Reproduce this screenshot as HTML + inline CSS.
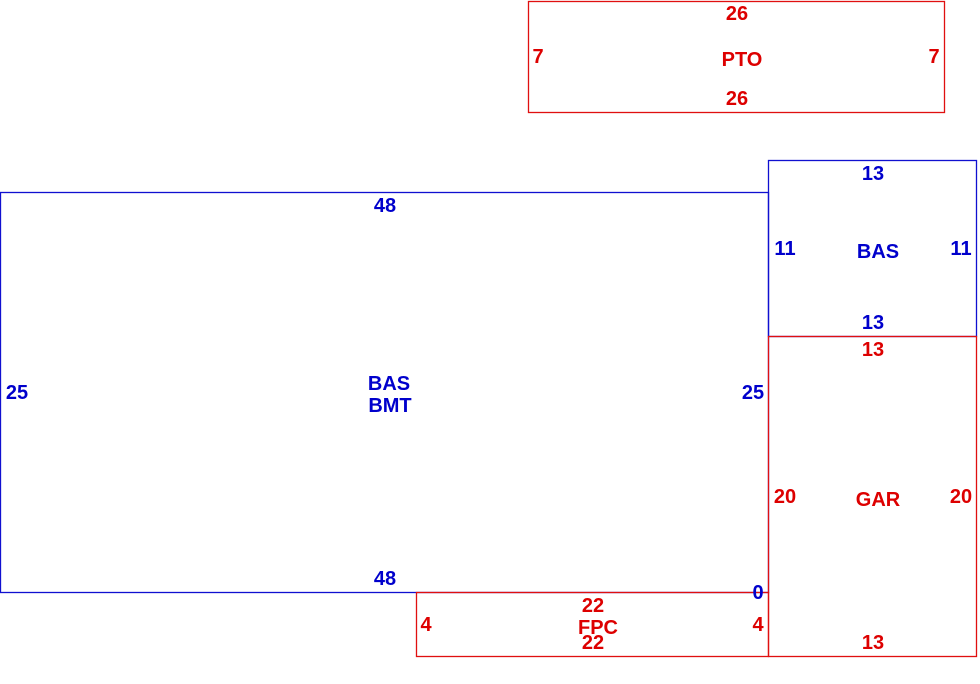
<!DOCTYPE html>
<html><head><style>html,body{margin:0;padding:0;background:#fff}svg{display:block}</style></head><body>
<svg width="980" height="684" xmlns="http://www.w3.org/2000/svg" font-family="Liberation Sans, sans-serif" font-weight="bold" font-size="20" text-anchor="middle" dominant-baseline="central">
<g fill="none" stroke-width="1.3">
<rect x="528.5" y="1.5" width="416" height="111" stroke="#e01010"/>
<rect x="0.5" y="192.5" width="768" height="400" stroke="#1010d0"/>
<rect x="768.5" y="160.5" width="208" height="176" stroke="#1010d0"/>
<rect x="768.5" y="336.5" width="208" height="320" stroke="#e01010"/>
<rect x="416.5" y="592.5" width="352" height="64" stroke="#e01010"/>
</g>
<g fill="#dd0000" transform="translate(0,1)">
<text x="737" y="13">26</text><text x="538" y="56">7</text><text x="934" y="56">7</text><text x="742" y="59">PTO</text><text x="737" y="98">26</text>
<text x="873" y="349">13</text><text x="785" y="496">20</text><text x="878" y="499">GAR</text><text x="961" y="496">20</text><text x="873" y="642">13</text>
<text x="593" y="605">22</text><text x="426" y="624">4</text><text x="758" y="624">4</text><text x="598" y="627">FPC</text><text x="593" y="642">22</text>
</g>
<g fill="#0000cc" transform="translate(0,1)">
<text x="873" y="173">13</text><text x="785" y="248">11</text><text x="878" y="251">BAS</text><text x="961" y="248">11</text><text x="873" y="322">13</text>
<text x="385" y="205">48</text><text x="17" y="392">25</text><text x="389" y="383">BAS</text><text x="390" y="405">BMT</text><text x="753" y="392">25</text><text x="385" y="578">48</text><text x="758" y="592">0</text>
</g>
</svg>
</body></html>
